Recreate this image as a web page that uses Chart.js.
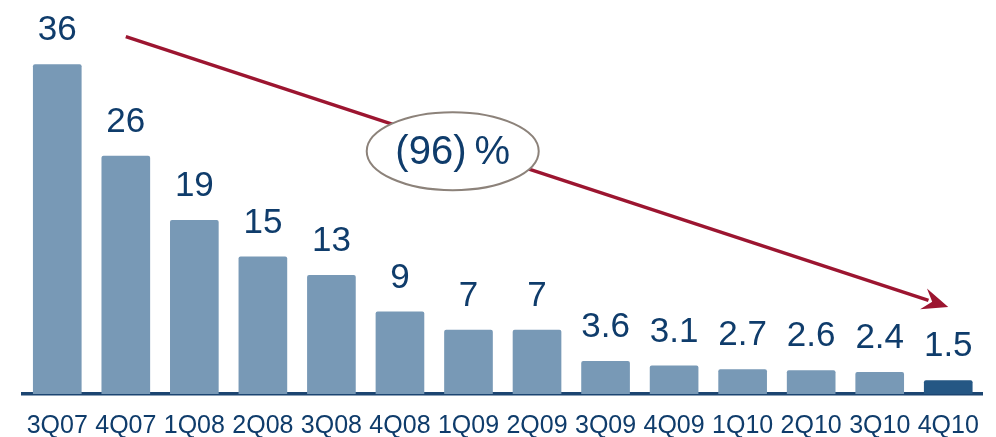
<!DOCTYPE html>
<html>
<head>
<meta charset="utf-8">
<script src="https://cdn.jsdelivr.net/npm/chart.js@4/dist/chart.umd.min.js"></script>
<style>
  html, body { margin: 0; padding: 0; background: #fff; }
  #quadro { width: 996px; height: 437px; }
</style>
</head>
<body>
<div id="quadro"><canvas id="grafico"></canvas></div>
<script>
const trimestres = ["3Q07", "4Q07", "1Q08", "2Q08", "3Q08", "4Q08", "1Q09", "2Q09", "3Q09", "4Q09", "1Q10", "2Q10", "3Q10", "4Q10"];
const valores = [36, 26, 19, 15, 13, 9, 7, 7, 3.6, 3.1, 2.7, 2.6, 2.4, 1.5];
const rotulos = ["36", "26", "19", "15", "13", "9", "7", "7", "3.6", "3.1", "2.7", "2.6", "2.4", "1.5"];
const variacao = "(96)\u2009%";

// seta de tendência: do 4Q07 até o 4Q10 (índice, valor)
const setaInicio = [1, 39];
const setaFim = [13, 9.5];
const elipseCentro = [5.77, 26.5];

const corBarra = "#7899b6";
const corDestaque = "#255784";
const corTexto = "#0f3c6b";
const corSeta = "#9c1530";
const fonte = "'Liberation Sans', Arial, sans-serif";

const cores = valores.map((v, i) => i == valores.length - 1 ? corDestaque : corBarra);

const rotulosBarras = {
  id: "rotulosBarras",
  afterDatasetsDraw(chart) {
    const ctx = chart.ctx;
    const barras = chart.getDatasetMeta(0).data;
    ctx.save();
    ctx.fillStyle = corTexto;
    ctx.font = "35px " + fonte;
    ctx.textAlign = "center";
    ctx.textBaseline = "alphabetic";
    barras.forEach((barra, i) => {
      ctx.fillText(rotulos[i], barra.x, barra.y - 24);
    });
    ctx.restore();
  }
};

const setaVariacao = {
  id: "setaVariacao",
  afterDraw(chart) {
    const ctx = chart.ctx;
    const x = chart.scales.x;
    const y = chart.scales.y;
    const x1 = x.getPixelForValue(setaInicio[0]);
    const y1 = y.getPixelForValue(setaInicio[1]);
    const x2 = x.getPixelForValue(setaFim[0]);
    const y2 = y.getPixelForValue(setaFim[1]);
    const ang = Math.atan2(y2 - y1, x2 - x1);
    const comp = 26;
    const larg = 11;

    ctx.save();
    ctx.strokeStyle = corSeta;
    ctx.fillStyle = corSeta;
    ctx.lineWidth = 3.5;
    ctx.beginPath();
    ctx.moveTo(x1, y1);
    ctx.lineTo(x2 - Math.cos(ang) * comp * 0.8, y2 - Math.sin(ang) * comp * 0.8);
    ctx.stroke();

    ctx.beginPath();
    ctx.moveTo(x2, y2);
    ctx.lineTo(x2 - Math.cos(ang) * comp + Math.sin(ang) * larg, y2 - Math.sin(ang) * comp - Math.cos(ang) * larg);
    ctx.lineTo(x2 - Math.cos(ang) * comp * 0.65, y2 - Math.sin(ang) * comp * 0.65);
    ctx.lineTo(x2 - Math.cos(ang) * comp - Math.sin(ang) * larg, y2 - Math.sin(ang) * comp + Math.cos(ang) * larg);
    ctx.closePath();
    ctx.fill();

    const cx = x.getPixelForValue(elipseCentro[0]);
    const cy = y.getPixelForValue(elipseCentro[1]);
    ctx.beginPath();
    ctx.ellipse(cx, cy, 86, 39, 0, 0, Math.PI * 2);
    ctx.fillStyle = "#ffffff";
    ctx.fill();
    ctx.strokeStyle = "#8c827a";
    ctx.lineWidth = 2;
    ctx.stroke();

    ctx.fillStyle = corTexto;
    ctx.font = "40px " + fonte;
    ctx.textAlign = "center";
    ctx.textBaseline = "middle";
    ctx.fillText(variacao, cx, cy + 2);
    ctx.restore();
  }
};

new Chart(document.getElementById("grafico").getContext("2d"), {
  type: "bar",
  data: {
    labels: trimestres,
    datasets: [{
      data: valores,
      backgroundColor: cores,
      borderRadius: 2,
      borderSkipped: "bottom",
      categoryPercentage: 1,
      barPercentage: 0.71
    }]
  },
  options: {
    responsive: true,
    maintainAspectRatio: false,
    animation: false,
    layout: {
      padding: { top: 0, left: 23, right: 5, bottom: 0 }
    },
    scales: {
      x: {
        grid: { display: false, drawTicks: false },
        border: { display: true, color: "#1c4571", width: 3.5 },
        ticks: {
          color: corTexto,
          padding: 17,
          maxRotation: 0,
          autoSkip: false,
          font: { family: fonte, size: 25 }
        },
        afterFit(escala) {
          escala.height = 43;
        }
      },
      y: {
        display: false,
        min: 0,
        max: 43
      }
    },
    plugins: {
      legend: { display: false },
      tooltip: { enabled: false }
    }
  },
  plugins: [rotulosBarras, setaVariacao]
});
</script>
</body>
</html>
